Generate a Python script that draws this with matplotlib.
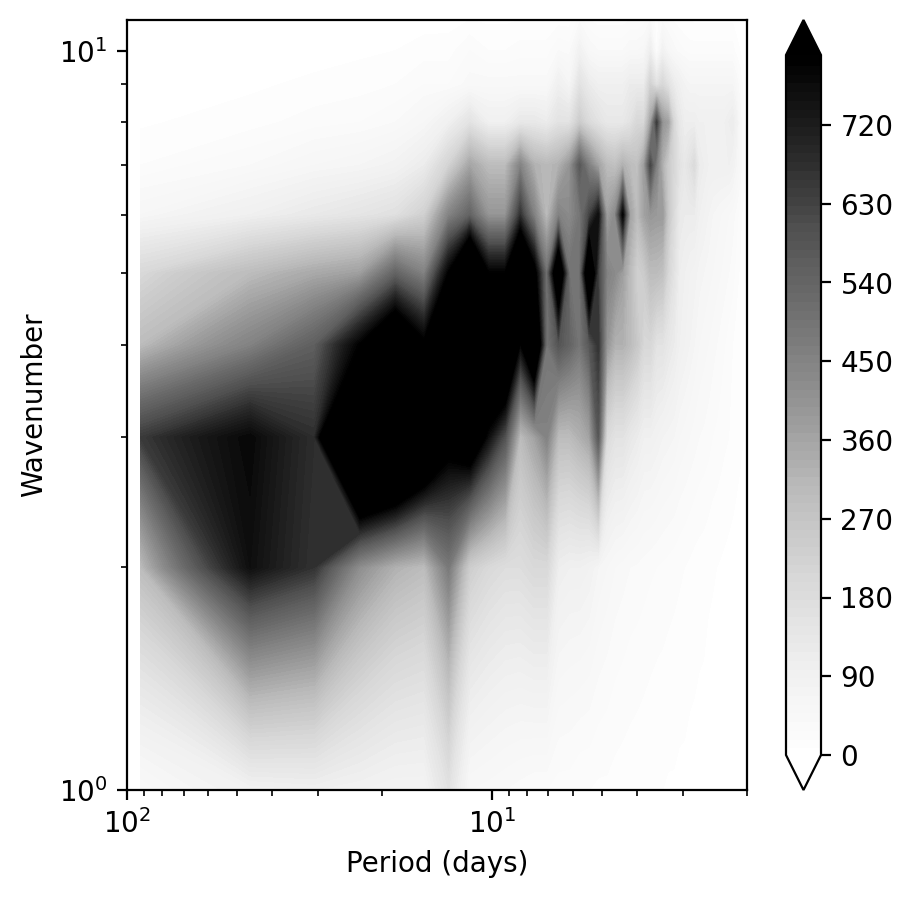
import numpy as np
import matplotlib
matplotlib.use("Agg")
import matplotlib.pyplot as plt

# Power by wavenumber (rows) and frequency index 1..46 (columns)
wn1 = [40,90,100,90,80,80,160,50,45,40,35,30,30,25,25,20,20,18,18,16,15,14,13,12,11,10,10,9,9,8,8,7,7,6,6,5,5,5,4,4,4,3,3,3,3,2]
wn2 = [300,760,670,420,330,300,480,240,200,180,180,200,200,110,100,100,90,70,60,50,45,40,38,35,32,30,28,26,24,22,20,18,16,15,14,12,11,10,9,8,7,6,5,5,4,4]
wn3 = [650,780,680,1544,1423,1162,880,987,760,594,300,365,455,300,300,330,365,580,190,160,160,135,120,100,100,90,80,75,70,60,55,50,45,40,38,35,30,28,25,22,20,18,15,12,10,8]
wn4 = [300,455,560,800,1000,820,1100,1200,1150,1200,780,1100,490,590,545,490,580,670,400,330,330,300,260,205,205,160,160,135,120,100,90,80,70,60,55,50,45,40,35,30,25,20,15,12,10,8]
wn5 = [200,300,350,375,545,455,800,1150,800,800,1100,850,500,1000,500,500,1000,630,455,430,375,300,230,245,300,300,285,205,160,110,100,90,85,75,70,65,60,55,50,45,40,35,25,18,12,8]
wn6 = [60,100,130,150,170,230,450,545,400,400,670,455,300,455,430,490,630,760,375,430,790,365,300,365,400,390,390,260,190,130,120,120,120,100,90,80,70,65,60,55,50,45,35,25,15,10]
wn7 = [20,40,60,70,85,120,220,360,300,300,450,330,310,330,400,580,455,365,300,285,330,300,285,375,630,455,330,245,205,160,135,160,190,120,110,100,100,100,100,100,100,90,70,50,30,20]
wn8 = [8,15,25,30,40,60,100,160,100,100,135,135,120,160,160,245,190,160,135,135,135,160,205,205,365,650,400,365,205,135,110,110,110,100,100,100,100,100,100,100,110,120,90,50,25,12]
wn9 = [4,8,12,15,20,30,30,45,45,45,45,45,45,100,70,160,120,100,100,100,100,120,120,120,225,160,205,160,120,100,80,70,70,70,70,70,70,70,70,70,70,70,50,30,15,8]
wn10 = [2,4,6,8,10,15,15,30,20,20,25,25,25,40,35,90,50,40,40,40,40,50,50,55,110,20,90,60,45,35,30,25,25,25,25,25,25,25,25,25,25,25,15,10,5,3]
wn11 = [1,2,3,3,4,5,6,10,8,8,10,10,10,15,15,35,20,15,15,15,15,20,20,25,40,10,35,25,18,14,10,10,8,8,8,8,8,8,8,8,8,8,5,3,2,1]

wavenumbers = [1, 2, 3, 4, 5, 6, 7, 8, 9, 10, 11]
record_days = 92
freq_index = np.arange(1, 47)
periods = record_days / freq_index
power = np.array([wn1, wn2, wn3, wn4, wn5, wn6, wn7, wn8, wn9, wn10, wn11], dtype=float)
level_values = np.arange(0, 810, 10)
cbar_ticks = [0, 90, 180, 270, 360, 450, 540, 630, 720]

W, H = 913, 898
fig = plt.figure(figsize=(W / 200, H / 200), dpi=200)
ax = fig.add_axes([127 / W, 1 - 790 / H, (747 - 127) / W, (790 - 20) / H])
cs = ax.contourf(periods, wavenumbers, power, levels=level_values, cmap="Greys", extend="both")
ax.set_xscale("log")
ax.set_yscale("log")
ax.set_xlim(100, 2)
ax.set_ylim(1, 11)
ax.set_xlabel("Period (days)")
ax.set_ylabel("Wavenumber")

cax = fig.add_axes([786 / W, 1 - 790 / H, (821 - 786) / W, (790 - 20) / H])
cb = fig.colorbar(cs, cax=cax, extend="both", ticks=cbar_ticks)
cb.solids.set_edgecolor("face")
fig.savefig("out.png", dpi=200)
